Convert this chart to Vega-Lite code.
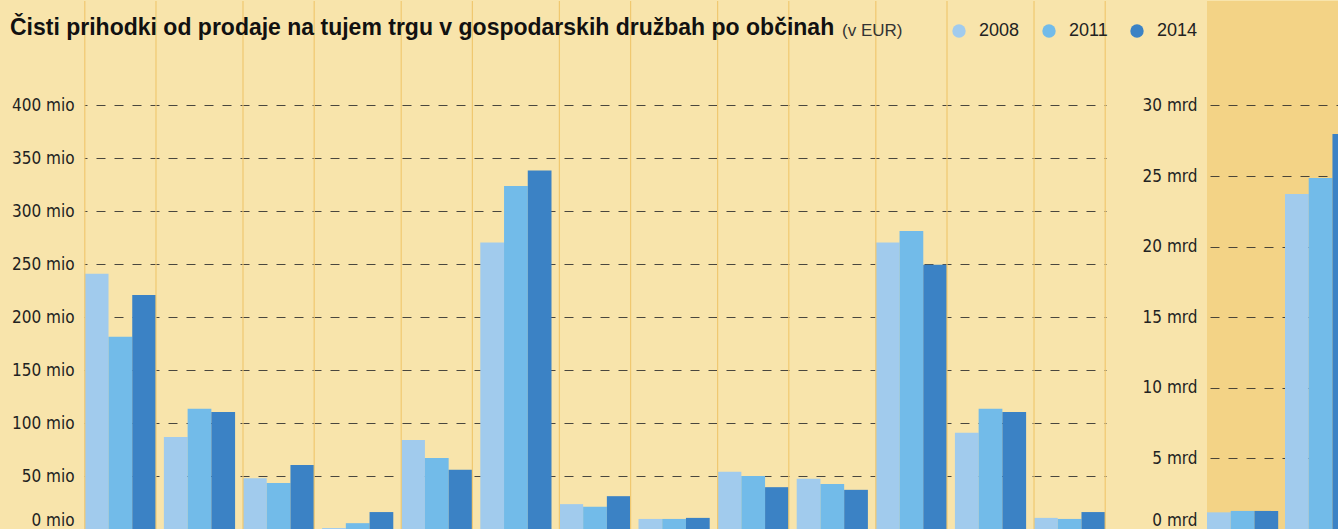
{
  "$schema": "https://vega.github.io/schema/vega-lite/v6.json",
  "background": "#f8e4ab",
  "padding": 0,
  "bounds": "flush",
  "spacing": 101,
  "title": {
    "text": "Čisti prihodki od prodaje na tujem trgu v gospodarskih družbah po občinah",
    "anchor": "start",
    "dx": 10,
    "offset": -40,
    "font": "Liberation Sans",
    "fontSize": 23,
    "fontWeight": "bold",
    "color": "#111111"
  },
  "config": {
    "view": {"stroke": null},
    "axisY": {
      "ticks": false,
      "domain": false,
      "title": null,
      "labelFont": "DejaVu Sans Condensed, Roboto, sans-serif",
      "labelFontSize": 17,
      "labelColor": "#222222",
      "labelPadding": 10,
      "labelFlush": 2,
      "labelOverlap": false,
      "gridDash": [9, 9],
      "gridColor": "#2a2a2a",
      "gridOpacity": 0.85,
      "gridWidth": 1
    }
  },
  "resolve": {"scale": {"color": "independent"}, "legend": {"color": "independent"}},
  "datasets": {
    "obcine": [
      {"obcina": "Občina 1", "leto": 2008, "vrednost": 241000000},
      {"obcina": "Občina 1", "leto": 2011, "vrednost": 181500000},
      {"obcina": "Občina 1", "leto": 2014, "vrednost": 221000000},
      {"obcina": "Občina 2", "leto": 2008, "vrednost": 87000000},
      {"obcina": "Občina 2", "leto": 2011, "vrednost": 113500000},
      {"obcina": "Občina 2", "leto": 2014, "vrednost": 110500000},
      {"obcina": "Občina 3", "leto": 2008, "vrednost": 48000000},
      {"obcina": "Občina 3", "leto": 2011, "vrednost": 43500000},
      {"obcina": "Občina 3", "leto": 2014, "vrednost": 60500000},
      {"obcina": "Občina 4", "leto": 2008, "vrednost": 1000000},
      {"obcina": "Občina 4", "leto": 2011, "vrednost": 5500000},
      {"obcina": "Občina 4", "leto": 2014, "vrednost": 16000000},
      {"obcina": "Občina 5", "leto": 2008, "vrednost": 84000000},
      {"obcina": "Občina 5", "leto": 2011, "vrednost": 67000000},
      {"obcina": "Občina 5", "leto": 2014, "vrednost": 56000000},
      {"obcina": "Občina 6", "leto": 2008, "vrednost": 270500000},
      {"obcina": "Občina 6", "leto": 2011, "vrednost": 324000000},
      {"obcina": "Občina 6", "leto": 2014, "vrednost": 338500000},
      {"obcina": "Občina 7", "leto": 2008, "vrednost": 23500000},
      {"obcina": "Občina 7", "leto": 2011, "vrednost": 21000000},
      {"obcina": "Občina 7", "leto": 2014, "vrednost": 31000000},
      {"obcina": "Občina 8", "leto": 2008, "vrednost": 9500000},
      {"obcina": "Občina 8", "leto": 2011, "vrednost": 9500000},
      {"obcina": "Občina 8", "leto": 2014, "vrednost": 10500000},
      {"obcina": "Občina 9", "leto": 2008, "vrednost": 54000000},
      {"obcina": "Občina 9", "leto": 2011, "vrednost": 50000000},
      {"obcina": "Občina 9", "leto": 2014, "vrednost": 39500000},
      {"obcina": "Občina 10", "leto": 2008, "vrednost": 47500000},
      {"obcina": "Občina 10", "leto": 2011, "vrednost": 42500000},
      {"obcina": "Občina 10", "leto": 2014, "vrednost": 37000000},
      {"obcina": "Občina 11", "leto": 2008, "vrednost": 270500000},
      {"obcina": "Občina 11", "leto": 2011, "vrednost": 281500000},
      {"obcina": "Občina 11", "leto": 2014, "vrednost": 249500000},
      {"obcina": "Občina 12", "leto": 2008, "vrednost": 91000000},
      {"obcina": "Občina 12", "leto": 2011, "vrednost": 113500000},
      {"obcina": "Občina 12", "leto": 2014, "vrednost": 110500000},
      {"obcina": "Občina 13", "leto": 2008, "vrednost": 10500000},
      {"obcina": "Občina 13", "leto": 2011, "vrednost": 9500000},
      {"obcina": "Občina 13", "leto": 2014, "vrednost": 16000000}
    ],
    "skupaj": [
      {"enota": "Regija", "leto": 2008, "vrednost": 1180000000},
      {"enota": "Regija", "leto": 2011, "vrednost": 1280000000},
      {"enota": "Regija", "leto": 2014, "vrednost": 1280000000},
      {"enota": "Slovenija", "leto": 2008, "vrednost": 23730000000},
      {"enota": "Slovenija", "leto": 2011, "vrednost": 24870000000},
      {"enota": "Slovenija", "leto": 2014, "vrednost": 27980000000}
    ]
  },
  "hconcat": [
    {
      "width": 1022,
      "height": 528,
      "data": {"name": "obcine"},
      "layer": [
        {
          "mark": {"type": "bar"},
          "encoding": {
            "x": {
              "field": "obcina",
              "type": "nominal",
              "axis": null,
              "scale": {
                "domain": ["Občina 1", "Občina 2", "Občina 3", "Občina 4", "Občina 5", "Občina 6", "Občina 7", "Občina 8", "Občina 9", "Občina 10", "Občina 11", "Občina 12", "Občina 13"],
                "paddingInner": 0.1,
                "paddingOuter": 0.01
              }
            },
            "xOffset": {"field": "leto", "type": "nominal"},
            "y": {
              "field": "vrednost",
              "type": "quantitative",
              "scale": {"domain": [0, 498700000], "nice": false, "zero": true},
              "axis": {
                "values": [0, 50000000, 100000000, 150000000, 200000000, 250000000, 300000000, 350000000, 400000000],
                "labelExpr": "format(datum.value / 1000000, 'd') + ' mio'",
                "minExtent": 84,
                "gridDashOffset": 6
              }
            },
            "color": {
              "field": "leto",
              "type": "nominal",
              "scale": {"domain": [2008, 2011, 2014], "range": ["#a1cbed", "#72bbe9", "#3b82c5"]},
              "legend": {
                "orient": "none",
                "legendX": 758,
                "legendY": 21,
                "direction": "horizontal",
                "title": "(v EUR)",
                "titleOrient": "left",
                "titleFont": "Liberation Sans",
                "titleFontSize": 17,
                "titleFontWeight": "normal",
                "titleColor": "#333333",
                "titlePadding": 47,
                "symbolType": "circle",
                "symbolSize": 180,
                "symbolStrokeWidth": 0,
                "symbolOpacity": 1,
                "labelFont": "Liberation Sans",
                "labelFontSize": 18,
                "labelColor": "#222222",
                "labelOffset": 11,
                "columnPadding": 20
              }
            }
          }
        },
        {
          "transform": [
            {"filter": "datum.leto == 2014"},
            {"window": [{"op": "row_number", "as": "idx"}]},
            {"filter": "datum.idx % 2 == 1"}
          ],
          "mark": {"type": "rule", "color": "#f0c870", "strokeWidth": 1.2},
          "encoding": {"x": {"field": "obcina", "type": "nominal", "bandPosition": 0}}
        },
        {
          "transform": [
            {"filter": "datum.leto == 2014"},
            {"window": [{"op": "row_number", "as": "idx"}]},
            {"filter": "datum.idx % 2 == 1"}
          ],
          "mark": {"type": "rule", "color": "#f0c870", "strokeWidth": 1.2},
          "encoding": {"x": {"field": "obcina", "type": "nominal", "bandPosition": 1}}
        }
      ]
    },
    {
      "width": 131,
      "height": 528,
      "view": {"fill": "#f3d386", "stroke": null},
      "data": {"name": "skupaj"},
      "mark": {"type": "bar", "clip": true},
      "encoding": {
        "x": {
          "field": "enota",
          "type": "nominal",
          "axis": null,
          "scale": {"domain": ["Regija", "Slovenija"], "range": [0, 145], "paddingInner": 0.141, "paddingOuter": 0}
        },
        "xOffset": {"field": "leto", "type": "nominal"},
        "y": {
          "field": "vrednost",
          "type": "quantitative",
          "scale": {"domain": [0, 37400000000], "nice": false, "zero": true},
          "axis": {
            "values": [0, 5000000000, 10000000000, 15000000000, 20000000000, 25000000000, 30000000000],
            "labelExpr": "format(datum.value / 1000000000, 'd') + ' mrd'",
            "gridDashOffset": 15
          }
        },
        "color": {
          "field": "leto",
          "type": "nominal",
          "scale": {"domain": [2008, 2011, 2014], "range": ["#a1cbed", "#72bbe9", "#3b82c5"]},
          "legend": null
        }
      }
    }
  ]
}
